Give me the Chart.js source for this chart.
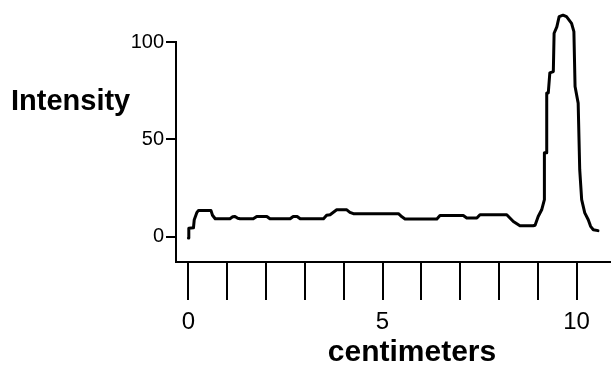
<!DOCTYPE html>
<html>
<head>
<meta charset="utf-8">
<script src="https://cdn.jsdelivr.net/npm/chart.js@4.4.1/dist/chart.umd.min.js"></script>
<style>
  html, body { margin: 0; padding: 0; background: #fff; }
  #wrap { width: 613px; height: 366px; position: relative; }
</style>
</head>
<body>
<div id="wrap"><canvas id="c" width="613" height="366"></canvas></div>
<script>
// Distance along the gel (cm) and measured intensity
const positions = [
  0.00, 0.01, 0.13, 0.15, 0.22, 0.26, 0.58, 0.62, 0.69, 1.07, 1.14, 1.20, 1.27, 1.33,
  1.67, 1.76, 2.02, 2.10, 2.62, 2.70, 2.80, 2.88, 3.48, 3.56, 3.65, 3.82, 4.08, 4.16,
  4.25, 5.41, 5.50, 5.58, 6.40, 6.48, 7.08, 7.17, 7.43, 7.51, 8.20, 8.37, 8.54, 8.88,
  8.93, 9.01, 9.10, 9.17, 9.17, 9.23, 9.23, 9.27, 9.31, 9.40, 9.42, 9.49, 9.55, 9.65,
  9.74, 9.87, 9.93, 9.96, 10.04, 10.08, 10.13, 10.21, 10.30, 10.36, 10.43, 10.55
];
const intensity = [
  -0.7, 4.3, 4.6, 8.7, 12.5, 13.5, 13.5, 11.0, 9.2, 9.2, 10.2, 10.4, 9.5, 9.2,
  9.2, 10.4, 10.4, 9.2, 9.2, 10.4, 10.4, 9.2, 9.2, 11.0, 11.3, 13.8, 13.8, 12.5,
  11.8, 11.8, 10.2, 9.1, 9.1, 10.9, 10.9, 9.6, 9.6, 11.3, 11.3, 7.8, 5.6, 5.6,
  5.9, 10.4, 13.8, 19.0, 43.1, 43.1, 73.8, 73.8, 84.1, 84.8, 104.5, 107.8, 113.0, 113.8,
  113.0, 109.6, 105.3, 77.1, 68.6, 34.4, 19.0, 12.2, 8.7, 5.3, 3.6, 3.1
];
const xTickValues = [0, 1, 2, 3, 4, 5, 6, 7, 8, 9, 10];
const xTickLabels = ['0', '', '', '', '', '5', '', '', '', '', '10'];
const yTickValues = [0, 50, 100];
const yTickLabels = ['0', '50', '100'];
const yAxisTitle = 'Intensity';
const xAxisTitle = 'centimeters';

const FONT = '"Liberation Sans", Arial, Helvetica, sans-serif';

const points = positions.map((x, i) => ({ x: x, y: intensity[i] }));

const titles = {
  id: 'titles',
  afterDraw(chart) {
    const ctx = chart.ctx;
    ctx.save();
    ctx.fillStyle = '#000';
    ctx.textBaseline = 'alphabetic';
    ctx.font = 'bold 29px ' + FONT;
    ctx.textAlign = 'left';
    ctx.fillText(yAxisTitle, 11, 110);
    ctx.font = 'bold 30px ' + FONT;
    ctx.textAlign = 'center';
    ctx.fillText(xAxisTitle, 412, 361);
    ctx.restore();
  }
};

new Chart(document.getElementById('c'), {
  type: 'scatter',
  data: {
    datasets: [{
      data: points,
      showLine: true,
      borderColor: '#000',
      borderWidth: 3,
      pointRadius: 0,
      tension: 0,
      clip: false,
      borderJoinStyle: 'round',
      borderCapStyle: 'round'
    }]
  },
  options: {
    responsive: false,
    animation: false,
    devicePixelRatio: 1,
    layout: { padding: { top: 42, right: 3, left: 0, bottom: 0 } },
    plugins: { legend: { display: false }, tooltip: { enabled: false }, title: { display: false } },
    scales: {
      x: {
        type: 'linear',
        min: -0.32,
        max: 10.86,
        afterBuildTicks: (s) => { s.ticks = xTickValues.map(v => ({ value: v })); },
        afterFit: (s) => { s.height = 104; },
        ticks: {
          color: '#000',
          font: { family: FONT, size: 24 },
          padding: 8,
          maxRotation: 0,
          autoSkip: false,
          callback: (v) => { const i = xTickValues.indexOf(v); return i >= 0 ? xTickLabels[i] : ''; }
        },
        grid: { display: true, drawOnChartArea: false, drawTicks: true, tickLength: 38, color: '#000', lineWidth: 2 },
        border: { display: true, color: '#000', width: 2 }
      },
      y: {
        type: 'linear',
        min: -13,
        max: 100,
        afterBuildTicks: (s) => { s.ticks = yTickValues.map(v => ({ value: v })); },
        afterFit: (s) => { s.width = 176; },
        ticks: {
          color: '#000',
          font: { family: FONT, size: 20 },
          padding: 2,
          autoSkip: false,
          callback: (v) => { const i = yTickValues.indexOf(v); return i >= 0 ? yTickLabels[i] : ''; }
        },
        grid: { display: true, drawOnChartArea: false, drawTicks: true, tickLength: 10, color: '#000', lineWidth: 2 },
        border: { display: true, color: '#000', width: 2 }
      }
    }
  },
  plugins: [titles]
});
</script>
</body>
</html>
